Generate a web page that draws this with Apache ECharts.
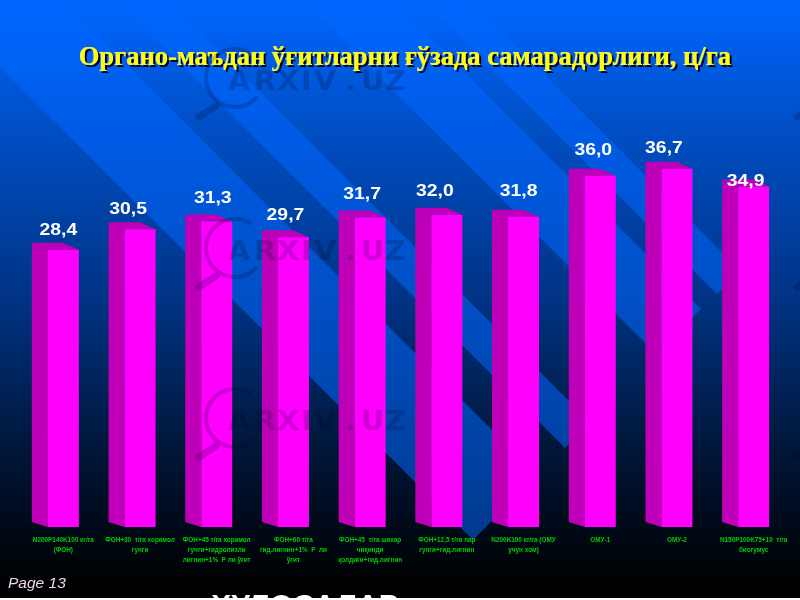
<!DOCTYPE html>
<html><head><meta charset="utf-8">
<style>html,body{margin:0;padding:0;background:#000;overflow:hidden}#c{width:800px;height:600px}</style>
<script src="https://cdn.jsdelivr.net/npm/echarts@6/dist/echarts.min.js"></script>
</head><body><div id="c"></div>
<script>
const titleText = 'Органо-маъдан ўғитларни ғўзада самарадорлиги, ц/га';
const categories = [
  'N200P140K100 кг/га\n(ФОН)',
  'ФОН+30  т/га хорамол\nгунги',
  'ФОН+45 т/га хорамол\nгунги+гидролизли\nлигнин+1%  Р ли ўғит',
  'ФОН+60 т/га\nгид.лигнин+1%  Р  ли\nўғит',
  'ФОН+45  т/га шахар\nчиқинди\nқолдиғи+гид.лигнин',
  'ФОН+12,5 т/га пар\nгунги+гид.лигнин',
  'N200K100 кг/га (ОМУ\nучун хом)',
  'ОМУ-1',
  'ОМУ-2',
  'N150P100K75+10  т/га\nбиогумус'
];
const yieldValues = [28.4, 30.5, 31.3, 29.7, 31.7, 32.0, 31.8, 36.0, 36.7, 34.9];
const valueLabels = ['28,4','30,5','31,3','29,7','31,7','32,0','31,8','36,0','36,7','34,9'];
// hand placement of the value labels relative to the bar
const labelShiftX = [-5,-12,-4,-8,-8,-12,-5,-7,-13,-8];
const labelShiftY = [-13,-13,-16,-15,-16,-16,-18,-18,-13,2];

const chart = echarts.init(document.getElementById('c'), null, {renderer:'canvas', width:800, height:600});

const G = (stops)=>({type:'linear',x:0,y:0,x2:0,y2:600,global:true,colorStops:stops});
const lightFill = G([{offset:0,color:'#0066ff'},{offset:.25,color:'#005ae2'},{offset:.57,color:'#004cbc'},{offset:.88,color:'#003a90'},{offset:1,color:'#003070'}]);
const band = (pts)=>({type:'polygon',z:-9,silent:true,shape:{points:pts},style:{fill:lightFill}});

const graphics = [
  {type:'rect',z:-10,silent:true,shape:{x:0,y:0,width:800,height:600},
   style:{fill:G([{offset:0,color:'#0066ff'},{offset:.2,color:'#0050c8'},{offset:.5,color:'#003384'},{offset:.75,color:'#001638'},{offset:.98,color:'#000000'},{offset:1,color:'#000000'}])}},
  band([[0,-62],[0,67],[473,540],[537,475]]),
  band([[168,0],[117,0],[565,448],[590,422]]),
  band([[303,0],[392,0],[701,309],[656,354]]),
  band([[423,0],[470,0],[741,271],[717,294]])
];

// watermark tiles
const wm = 'rgba(0,0,40,0.2)';
const letters = ['A','R','X','I','V','.','U','Z'];
const letterX = [228,254,277,301,314,345,361,385];
function tile(dx,dy){
  graphics.push({type:'arc',z:50,silent:true,shape:{cx:235+dx,cy:78+dy,r:29,startAngle:0.7,endAngle:5.3,clockwise:true},style:{fill:null,stroke:wm,lineWidth:4}});
  graphics.push({type:'line',z:50,silent:true,shape:{x1:216+dx,y1:106+dy,x2:199+dx,y2:117+dy},style:{stroke:wm,lineWidth:7,lineCap:'round'}});
  letters.forEach((ch,i)=>graphics.push({type:'text',z:50,silent:true,x:letterX[i]+dx,y:83+dy,scaleX:1.1,
    style:{text:ch,fill:wm,font:'bold 26px "DejaVu Sans"',textAlign:'left',textVerticalAlign:'middle'}}));
}
[0,170,340].forEach(d=>{tile(0,d);tile(598,d);});

// bottom: clipped heading and white strip
graphics.push({type:'text',z:60,silent:true,x:305,y:592,style:{text:'ХУЛОСАЛАР',fill:'#fff',font:'bold 30px "Liberation Sans"',textAlign:'center',textVerticalAlign:'top'}});
graphics.push({type:'rect',z:61,silent:true,shape:{x:0,y:598,width:800,height:2},style:{fill:'#fff'}});
graphics.push({type:'text',z:60,silent:true,x:8,y:584,style:{text:'Page 13',fill:'#eed6f2',font:'italic 15.5px "Liberation Sans"',textAlign:'left',textVerticalAlign:'middle'}});
// title shadow and highlight under main title
graphics.push({type:'text',z:4,silent:true,x:81,y:47,style:{text:titleText,fill:'#000030',font:'bold 26.5px "Liberation Serif"',textAlign:'left',textVerticalAlign:'top'}});
graphics.push({type:'text',z:5,silent:true,x:78.5,y:44.5,style:{text:titleText,fill:'rgba(255,255,255,0.7)',font:'bold 26.5px "Liberation Serif"',textAlign:'left',textVerticalAlign:'top'}});

function renderBar(params, api){
  const i = api.value(0), v = api.value(1);
  const top = api.coord([i,v]), base = api.coord([i,0]);
  const w = 31, dx = 16, dy = 7, sb = 5;
  const L = top[0]-w/2, R = L+w;
  return {type:'group',children:[
    {type:'polygon',shape:{points:[[L-dx,top[1]-dy],[L,top[1]],[L,base[1]],[L-dx,base[1]-sb]]},style:{fill:'#c000b8'}},
    {type:'polygon',shape:{points:[[L-dx,top[1]-dy],[R-dx,top[1]-dy],[R,top[1]],[L,top[1]]]},style:{fill:'#c000b8'}},
    {type:'rect',shape:{x:L,y:top[1],width:w,height:base[1]-top[1]},style:{fill:'#ff00ff'}},
    {type:'text',z2:10,x:top[0]+labelShiftX[i],y:top[1]-dy+labelShiftY[i],scaleX:1.14,
      style:{text:valueLabels[i],fill:'#ffffff',font:'bold 17px "Liberation Sans"',textAlign:'center',textVerticalAlign:'middle'}}
  ]};
}

chart.setOption({
  animation:false,
  backgroundColor:'#000',
  title:{text:titleText,left:79,top:45,z:6,padding:0,
    textStyle:{color:'#ffff00',fontFamily:'"Liberation Serif"',fontWeight:'bold',fontSize:26.5}},
  grid:{left:25,right:8,top:39,bottom:73,containLabel:false},
  xAxis:{type:'category',data:categories,axisLine:{show:false},axisTick:{show:false},splitLine:{show:false},
    axisLabel:{interval:0,margin:8,color:'#00cc00',fontSize:6.4,fontWeight:'bold',fontFamily:'"Liberation Sans"',lineHeight:10,verticalAlign:'top'}},
  yAxis:{type:'value',min:0,max:50,show:false,splitLine:{show:false}},
  series:[{type:'custom',coordinateSystem:'cartesian2d',z:2,clip:false,encode:{x:0,y:1},
    data:yieldValues.map((v,i)=>[i,v]),renderItem:renderBar}],
  graphic:graphics
});
</script></body></html>
